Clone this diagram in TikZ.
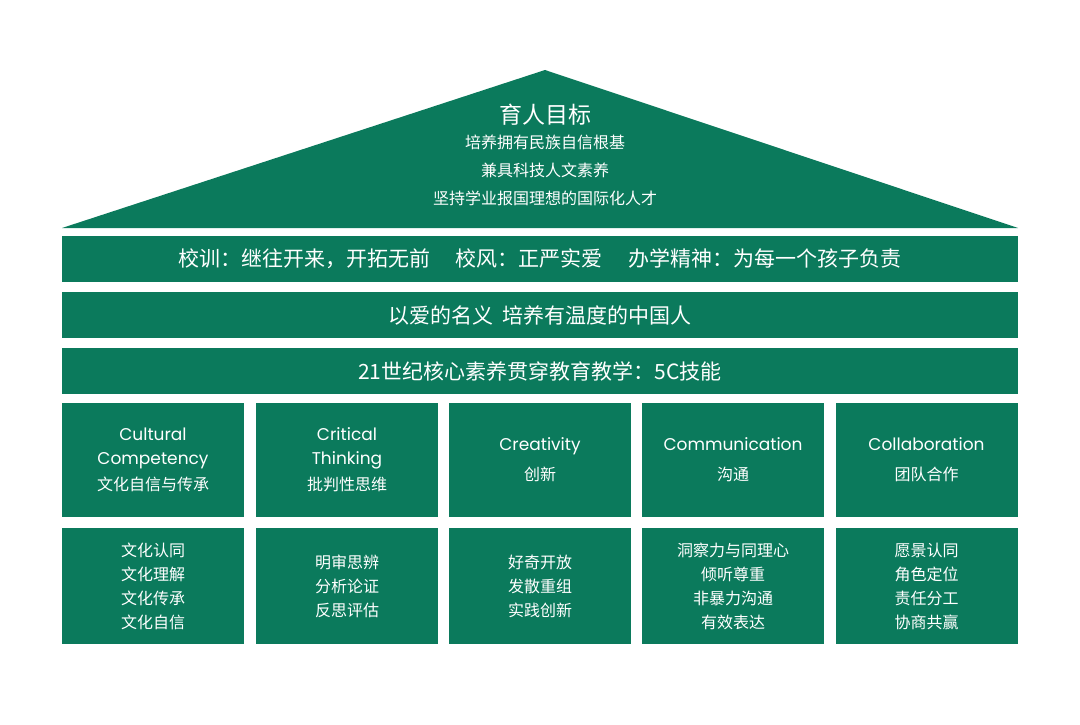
\documentclass[tikz,border=0pt]{standalone}
\usepackage{fontspec}
\usetikzlibrary{positioning}
\setmainfont{Poppins}
\newfontfamily\cjk{Noto Sans CJK SC}
\definecolor{schoolgreen}{HTML}{0B7A5C}
\tikzset{
  band/.style={fill=schoolgreen,draw=none,minimum width=956pt,minimum height=46pt,inner sep=0pt,text=white,font=\cjk\fontsize{21}{24}\selectfont},
  cell/.style={fill=schoolgreen,draw=none,minimum width=182pt,minimum height=114pt,inner sep=0pt,text=white,align=center},
  skill/.style={cell,font=\fontsize{17}{24}\selectfont},
  trait/.style={cell,minimum height=116pt,font=\cjk\fontsize{16}{24}\selectfont}
}
\begin{document}
\begin{tikzpicture}[x=1pt,y=-1pt]
  \useasboundingbox (0,0) rectangle (1080,725);
  % Roof
  \fill[schoolgreen] (545,70) coordinate (apex) -- (1018,228) -- (62,228) -- cycle;
  \node[text=white,font=\cjk\fontsize{23}{26}\selectfont] (goal) at (545,115) {育人目标};
  \node[text=white,font=\cjk\fontsize{16}{28}\selectfont,align=center,below=2pt of goal] (goaltext)
    {培养拥有民族自信根基\\兼具科技人文素养\\坚持学业报国理想的国际化人才};
  % Bands
  \node[band] (motto) at (540,259) {校训：继往开来，开拓无前\hspace{1.2em}校风：正严实爱\hspace{1.2em}办学精神：为每一个孩子负责};
  \node[band] (mission) at (540,315) {以爱的名义\hspace{0.4em}培养有温度的中国人};
  \node[band] (core) at (540,371) {21世纪核心素养贯穿教育教学：5C技能};
  % Skills
  \node[skill] (s1) at (153,460) {Cultural\\Competency\\[2pt]{\cjk\fontsize{16}{20}\selectfont 文化自信与传承}};
  \node[skill] (s2) at (347,460) {Critical\\Thinking\\[2pt]{\cjk\fontsize{16}{20}\selectfont 批判性思维}};
  \node[skill] (s3) at (540,460) {Creativity\\[6pt]{\cjk\fontsize{16}{20}\selectfont 创新}};
  \node[skill] (s4) at (733,460) {Communication\\[6pt]{\cjk\fontsize{16}{20}\selectfont 沟通}};
  \node[skill] (s5) at (926.5,460) {Collaboration\\[6pt]{\cjk\fontsize{16}{20}\selectfont 团队合作}};
  % Traits
  \node[trait] (t1) at (153,586) {文化认同\\文化理解\\文化传承\\文化自信};
  \node[trait] (t2) at (347,586) {明审思辨\\分析论证\\反思评估};
  \node[trait] (t3) at (540,586) {好奇开放\\发散重组\\实践创新};
  \node[trait] (t4) at (733,586) {洞察力与同理心\\倾听尊重\\非暴力沟通\\有效表达};
  \node[trait] (t5) at (926.5,586) {愿景认同\\角色定位\\责任分工\\协商共赢};
\end{tikzpicture}
\end{document}
